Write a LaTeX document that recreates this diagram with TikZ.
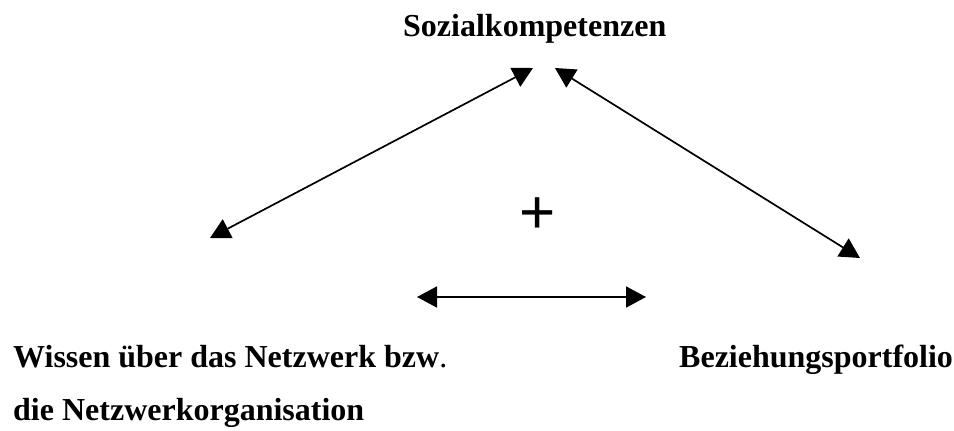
\documentclass[tikz,border=0pt]{standalone}
\usepackage{fontspec}
\setmainfont{Liberation Serif}
\newfontfamily\plusfont{Liberation Sans}
\usetikzlibrary{arrows.meta}
\begin{document}
\begin{tikzpicture}[x=1pt,y=-1pt,
  label/.style={inner sep=0pt,anchor=base west,font=\fontsize{32}{38}\selectfont\bfseries},
  link/.style={line width=1.7pt,{Triangle[length=20pt,width=21pt]}-{Triangle[length=20pt,width=21pt]}}]
  \useasboundingbox (0,0) rectangle (954,431);
  % labels
  \node[label] (soz) at (403,36) {Sozialkompetenzen};
  \node[label] (wis1) at (13,367) {Wissen über das Netzwerk bzw{\mdseries.}};
  \node[label] (wis2) at (13,420) {die Netzwerkorganisation};
  \node[label] (bez) at (679,367) {Beziehungsportfolio};
  \node[inner sep=0pt,font=\plusfont\fontsize{62}{62}\selectfont] (plus) at (538,216) {+};
  % arrow ends
  \coordinate (sozL) at (533,68);
  \coordinate (sozR) at (555,68);
  \coordinate (wisT) at (210,238);
  \coordinate (bezT) at (860,258);
  \coordinate (midL) at (417,297);
  \coordinate (midR) at (646,297);
  % connectors
  \draw[link] (wisT) -- (sozL);
  \draw[link] (sozR) -- (bezT);
  \draw[link] (midL) -- (midR);
\end{tikzpicture}
\end{document}
